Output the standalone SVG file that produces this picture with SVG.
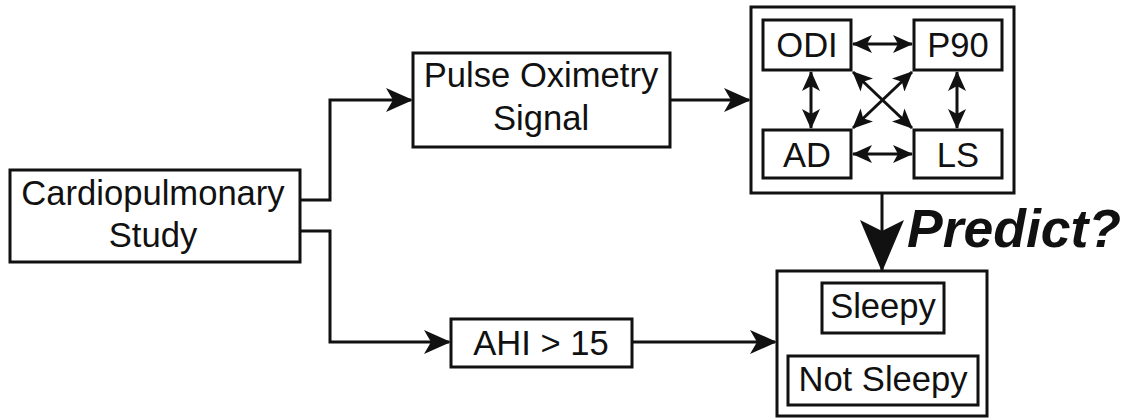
<svg xmlns="http://www.w3.org/2000/svg" width="1124" height="418" viewBox="0 0 1124 418">
  <style>
    .box { fill: #fff; stroke: #111; stroke-width: 3; }
    .frame { fill: none; stroke: #111; stroke-width: 3; }
    .lbl { font-family: "Liberation Sans", Arial, sans-serif; font-size: 34.6px; fill: #111; text-anchor: middle; }
    .wire { fill: none; stroke: #111; stroke-width: 3; }
    .predict { font-family: "Liberation Sans", Arial, sans-serif; font-size: 53.5px; font-weight: bold; font-style: italic; fill: #111; }
  </style>
  <defs>
    <marker id="head" markerUnits="userSpaceOnUse" markerWidth="27" markerHeight="24" refX="25" refY="12" orient="auto-start-reverse" viewBox="0 0 27 24">
      <path d="M0,0 L27,12 L0,24 L7,12 Z" fill="#111"/>
    </marker>
    <marker id="headSmall" markerUnits="userSpaceOnUse" markerWidth="20" markerHeight="18" refX="19" refY="9" orient="auto-start-reverse" viewBox="0 0 20 18">
      <path d="M0,0 L20,9 L0,18 L5,9 Z" fill="#111"/>
    </marker>
    <marker id="headBig" markerUnits="userSpaceOnUse" markerWidth="52" markerHeight="44" refX="52" refY="22" orient="auto" viewBox="0 0 52 44">
      <path d="M0,0 L52,22 L0,44 L11,22 Z" fill="#111"/>
    </marker>
  </defs>

  <!-- connectors -->
  <g id="connectors">
    <polyline class="wire" points="300,200 330,200 330,100 411,100" marker-end="url(#head)"/>
    <polyline class="wire" points="300,231 330,231 330,342 449,342" marker-end="url(#head)"/>
    <line class="wire" x1="670" y1="100" x2="749" y2="100" marker-end="url(#head)"/>
    <line class="wire" x1="632" y1="342" x2="775" y2="342" marker-end="url(#head)"/>
    <!-- links between the four measures -->
    <line class="wire" x1="853" y1="44" x2="912" y2="44" marker-start="url(#headSmall)" marker-end="url(#headSmall)"/>
    <line class="wire" x1="853" y1="154" x2="912" y2="154" marker-start="url(#headSmall)" marker-end="url(#headSmall)"/>
    <line class="wire" x1="811" y1="72" x2="811" y2="128" marker-start="url(#headSmall)" marker-end="url(#headSmall)"/>
    <line class="wire" x1="957" y1="72" x2="957" y2="128" marker-start="url(#headSmall)" marker-end="url(#headSmall)"/>
    <line class="wire" x1="853" y1="72" x2="912" y2="128" marker-start="url(#headSmall)" marker-end="url(#headSmall)"/>
    <line class="wire" x1="912" y1="72" x2="853" y2="128" marker-start="url(#headSmall)" marker-end="url(#headSmall)"/>
    <!-- prediction arrow -->
    <line class="wire" x1="882" y1="193" x2="882" y2="272" marker-end="url(#headBig)"/>
  </g>

  <g id="cardio">
    <rect class="box" x="10" y="170" width="290" height="92"/>
    <text class="lbl" x="153" y="205">Cardiopulmonary</text>
    <text class="lbl" x="153" y="247">Study</text>
  </g>

  <g id="pulse">
    <rect class="box" x="413" y="53" width="257" height="94"/>
    <text class="lbl" x="541" y="87">Pulse Oximetry</text>
    <text class="lbl" x="541" y="130">Signal</text>
  </g>

  <g id="ahi">
    <rect class="box" x="451" y="319" width="181" height="48"/>
    <text class="lbl" x="541" y="355">AHI &gt; 15</text>
  </g>

  <g id="features">
    <rect class="frame" x="751" y="7" width="263" height="186"/>
  </g>

  <g id="odi">
    <rect class="box" x="763" y="20" width="88" height="50"/>
    <text class="lbl" x="807" y="57">ODI</text>
  </g>
  <g id="p90">
    <rect class="box" x="914" y="20" width="88" height="50"/>
    <text class="lbl" x="958" y="57">P90</text>
  </g>
  <g id="ad">
    <rect class="box" x="763" y="130" width="88" height="48"/>
    <text class="lbl" x="807" y="167">AD</text>
  </g>
  <g id="ls">
    <rect class="box" x="914" y="130" width="88" height="48"/>
    <text class="lbl" x="958" y="167">LS</text>
  </g>

  <g id="outcome">
    <rect class="frame" x="777" y="271" width="210" height="145"/>
  </g>
  <g id="sleepy">
    <rect class="box" x="822" y="283" width="122" height="50"/>
    <text class="lbl" x="883" y="318">Sleepy</text>
  </g>
  <g id="notsleepy">
    <rect class="box" x="788" y="356" width="190" height="49"/>
    <text class="lbl" x="883" y="391">Not Sleepy</text>
  </g>

  <text class="predict" x="907" y="247">Predict?</text>
</svg>
